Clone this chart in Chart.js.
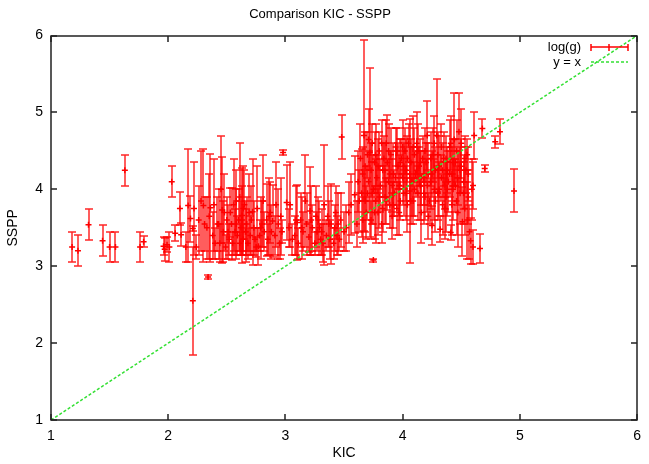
<!DOCTYPE html>
<html>
<head>
<meta charset="utf-8">
<script src="https://cdn.jsdelivr.net/npm/chart.js@4"></script>
<style>
  html, body { margin: 0; padding: 0; background: #fff; }
  #wrap { width: 649px; height: 464px; }
</style>
</head>
<body>
<div id="wrap"><canvas id="chart" width="649" height="464"></canvas></div>
<script>
// KIC log(g) vs SSPP log(g), with SSPP error (+/-)
const kic = [
  1.18,1.23,1.32,1.44,1.50,1.55,1.63,1.76,1.79,1.96,
  1.97,1.99,2.01,2.03,2.06,2.10,2.11,2.15,2.17,2.19,
  2.21,2.21,2.24,2.30,2.31,2.34,2.36,2.38,2.40,2.42,
  2.44,2.46,2.47,2.49,2.50,2.52,2.53,2.54,2.55,2.57,
  2.58,2.59,2.60,2.61,2.62,2.63,2.64,2.65,2.66,2.67,
  2.68,2.70,2.72,2.73,2.74,2.75,2.77,2.78,2.80,2.82,
  2.84,2.85,2.87,2.89,2.91,2.94,2.95,2.97,2.98,3.01,
  3.03,3.06,3.08,3.10,3.11,3.13,3.15,3.18,3.20,3.21,
  3.23,3.25,3.27,3.28,3.30,3.31,3.33,3.35,3.37,3.39,
  3.41,3.43,3.45,3.46,3.48,3.50,3.56,3.59,3.61,3.63,
  3.65,3.66,3.67,3.68,3.69,3.70,3.71,3.72,3.73,3.74,
  3.75,3.75,3.76,3.77,3.78,3.79,3.80,3.81,3.82,3.83,
  3.84,3.85,3.86,3.87,3.88,3.89,3.90,3.91,3.92,3.93,
  3.94,3.95,3.96,3.97,3.98,3.99,4.00,4.01,4.02,4.03,
  4.04,4.05,4.06,4.07,4.08,4.09,4.10,4.11,4.12,4.13,
  4.14,4.15,4.16,4.17,4.18,4.19,4.20,4.21,4.22,4.23,
  4.24,4.25,4.26,4.27,4.28,4.29,4.30,4.31,4.32,4.33,
  4.34,4.35,4.36,4.37,4.38,4.39,4.40,4.41,4.42,4.43,
  4.44,4.45,4.46,4.47,4.48,4.49,4.50,4.51,4.52,4.53,
  4.54,4.55,4.56,4.58,4.60,4.60,4.61,4.66,4.68,4.70,
  4.79,4.83,4.95,
  2.22,2.26,2.28,2.33,2.35,2.39,2.43,2.45,2.48,2.51,
  2.56,2.58,2.61,2.63,2.64,2.66,2.69,2.71,2.76,2.79,
  2.81,2.86,2.88,2.92,2.96,3.04,3.09,3.14,3.17,3.22,
  3.26,3.29,3.32,3.36,3.38,3.42,3.44,3.47,3.52,3.54,
  3.62,3.64,3.66,3.68,3.70,3.71,3.73,3.74,3.76,3.77,
  3.79,3.80,3.82,3.83,3.85,3.86,3.88,3.89,3.91,3.92,
  3.94,3.95,3.97,3.98,4.00,4.01,4.03,4.04,4.06,4.07,
  4.09,4.10,4.12,4.13,4.15,4.16,4.18,4.19,4.21,4.22,
  4.24,4.25,4.27,4.28,4.30,4.31,4.33,4.34,4.36,4.37,
  4.38,4.40,4.41,4.42,4.43,4.45,4.46,4.47,4.49,4.50,
  4.52,4.53,4.55,4.56,4.57,4.59
]
const sspp = [
  3.25,3.20,3.54,3.33,3.25,3.25,4.25,3.25,3.32,3.26,
  3.22,3.28,3.25,4.10,3.43,3.75,3.41,3.25,3.79,3.62,
  3.49,2.55,3.25,3.79,3.55,2.86,3.76,3.40,3.30,3.55,
  3.30,3.73,3.45,3.25,3.60,3.35,3.70,3.55,3.30,3.45,
  3.85,3.40,3.60,3.30,3.50,3.66,3.35,3.80,3.45,3.55,
  3.30,3.40,3.71,3.50,3.35,3.25,3.26,3.40,3.55,3.45,
  3.60,3.35,3.70,3.59,3.40,3.55,3.30,3.45,4.48,3.83,
  3.50,3.35,3.40,3.57,3.30,3.60,3.45,3.55,3.38,3.72,
  3.50,3.30,3.45,3.60,3.35,3.45,3.80,3.40,3.55,3.55,
  3.30,3.70,3.55,3.35,4.68,3.45,3.80,3.93,3.55,3.85,
  3.95,4.20,4.70,4.30,3.70,4.45,4.10,4.48,3.60,4.60,
  3.08,4.00,4.35,3.85,4.15,3.70,4.50,4.05,3.55,4.25,
  4.40,3.90,4.60,4.35,4.10,3.80,4.45,3.65,4.20,3.95,
  4.55,3.75,4.30,4.05,3.85,4.40,4.15,3.95,4.50,4.25,
  3.80,4.60,3.98,4.35,4.10,3.85,4.45,4.20,4.60,3.95,
  4.30,4.05,3.70,4.40,4.15,3.90,4.35,4.70,4.20,3.85,
  4.10,3.53,4.45,4.00,4.25,4.70,3.95,4.30,3.48,4.15,
  3.80,4.40,4.05,3.90,4.25,4.10,4.55,3.44,4.20,4.00,
  4.65,4.35,3.85,4.15,4.75,3.95,4.30,3.58,4.10,3.75,
  4.25,4.45,3.90,3.33,3.25,4.05,4.70,3.23,4.79,4.27,
  4.62,4.75,3.98,
  3.75,3.60,3.85,3.50,3.65,3.80,3.55,4.00,3.70,3.45,
  3.80,3.55,3.90,3.60,3.75,3.45,3.70,3.60,3.75,3.50,
  3.85,3.65,3.45,3.80,3.65,3.80,3.60,3.50,3.85,3.60,
  3.65,3.50,3.30,3.65,3.35,3.50,3.40,3.60,3.50,3.70,
  4.10,4.40,3.60,3.85,3.95,4.65,4.25,3.95,3.70,4.45,
  4.30,3.90,4.60,3.75,4.25,3.85,4.50,4.20,4.05,3.80,
  4.15,4.50,3.70,4.35,4.55,4.30,3.95,4.40,4.20,3.85,
  4.55,4.00,4.25,4.50,4.35,4.15,3.95,4.50,4.05,3.65,
  4.40,4.20,4.60,3.85,4.45,4.00,4.55,4.25,3.75,4.40,
  4.00,4.20,4.60,3.80,4.35,4.05,4.50,3.70,4.25,4.60,
  3.95,4.40,3.60,4.20,3.45,4.00
]
const err = [
  0.20,0.20,0.20,0.20,0.20,0.20,0.20,0.20,0.07,0.12,
  0.15,0.10,0.20,0.20,0.10,0.22,0.15,0.20,0.74,0.30,
  0.03,0.70,0.15,0.74,0.35,0.02,0.70,0.30,0.20,0.35,
  0.25,0.69,0.40,0.15,0.30,0.20,0.32,0.47,0.15,0.30,
  0.40,0.25,0.40,0.15,0.35,0.62,0.20,0.45,0.30,0.35,
  0.20,0.25,0.69,0.35,0.15,0.13,0.24,0.20,0.30,0.25,
  0.47,0.20,0.40,0.47,0.25,0.45,0.20,0.15,0.03,0.49,
  0.25,0.20,0.25,0.49,0.20,0.35,0.25,0.40,0.20,0.57,
  0.30,0.15,0.25,0.30,0.20,0.30,0.78,0.20,0.30,0.52,
  0.20,0.35,0.40,0.15,0.29,0.25,0.40,0.50,0.30,0.40,
  0.57,0.35,1.24,0.45,0.35,0.30,0.40,1.10,0.25,0.25,
  0.02,0.45,0.40,0.55,0.30,0.30,0.25,0.35,0.25,0.35,
  0.30,0.35,0.30,0.62,0.30,0.30,0.35,0.30,0.40,0.30,
  0.25,0.35,0.30,0.40,0.25,0.25,0.35,0.30,0.30,0.40,
  0.35,0.25,0.94,0.30,0.45,0.30,0.35,0.30,0.40,0.35,
  0.25,0.45,0.40,0.30,0.35,0.30,0.25,0.45,0.40,0.30,
  0.35,0.25,0.35,0.40,0.30,0.73,0.35,0.40,0.17,0.30,
  0.40,0.35,0.30,0.45,0.30,0.40,0.35,0.10,0.35,0.40,
  0.60,0.30,0.45,0.35,0.50,0.40,0.35,0.45,0.35,0.35,
  0.30,0.20,0.35,0.30,0.22,0.30,0.30,0.19,0.12,0.05,
  0.08,0.16,0.28,
  0.60,0.45,0.65,0.40,0.55,0.60,0.45,0.70,0.50,0.35,
  0.60,0.45,0.70,0.45,0.55,0.40,0.50,0.45,0.55,0.40,
  0.60,0.50,0.35,0.55,0.50,0.55,0.45,0.40,0.60,0.45,
  0.40,0.35,0.25,0.40,0.25,0.30,0.25,0.35,0.30,0.40,
  0.40,0.45,0.30,0.40,0.35,0.40,0.35,0.40,0.35,0.40,
  0.35,0.40,0.30,0.30,0.35,0.30,0.35,0.30,0.35,0.30,
  0.35,0.30,0.30,0.30,0.35,0.30,0.35,0.30,0.35,0.30,
  0.40,0.35,0.30,0.35,0.30,0.35,0.40,0.30,0.35,0.30,
  0.35,0.30,0.35,0.40,0.30,0.35,0.30,0.35,0.40,0.30,
  0.35,0.30,0.35,0.40,0.30,0.35,0.40,0.45,0.30,0.45,
  0.40,0.30,0.50,0.35,0.35,0.40
]
const diagonal = [1, 6]
const axisTicks = [1, 2, 3, 4, 5, 6]

const FONT = 'Liberation Sans, Arial, Helvetica, sans-serif'
const RED = '#ff0000'
const GREEN = '#33e033'

// error bars drawn under the point crosses
const errorBars = {
    id: 'errorBars',
    beforeDatasetsDraw(chart) {
        const { ctx, chartArea: a, scales: { x, y } } = chart
        ctx.save()
        ctx.beginPath()
        ctx.rect(a.left, a.top, a.right - a.left, a.bottom - a.top)
        ctx.clip()
        ctx.strokeStyle = 'rgba(255,0,0,0.85)'
        ctx.lineWidth = 1.5
        kic.forEach((k, i) => {
            const px = Math.round(x.getPixelForValue(k))
            const lo = Math.round(y.getPixelForValue(sspp[i] - err[i]))
            const hi = Math.round(y.getPixelForValue(sspp[i] + err[i]))
            ctx.beginPath()
            ctx.moveTo(px, lo); ctx.lineTo(px, hi)
            ctx.moveTo(px - 4, lo); ctx.lineTo(px + 4, lo)
            ctx.moveTo(px - 4, hi); ctx.lineTo(px + 4, hi)
            ctx.stroke()
        })
        ctx.restore()
    }
}

// gnuplot-like frame, mirrored inward ticks and key
const frame = {
    id: 'frame',
    afterDraw(chart) {
        const { ctx, chartArea: a, scales: { x, y } } = chart
        ctx.save()
        ctx.strokeStyle = '#222'
        ctx.lineWidth = 1.5
        const L = Math.round(a.left), R = Math.round(a.right)
        const T = Math.round(a.top), B = Math.round(a.bottom)
        ctx.strokeRect(L, T, R - L, B - T)
        ctx.beginPath()
        axisTicks.forEach(v => {
            const px = Math.round(x.getPixelForValue(v))
            ctx.moveTo(px, B); ctx.lineTo(px, B - 6)
            ctx.moveTo(px, T); ctx.lineTo(px, T + 6)
            const py = Math.round(y.getPixelForValue(v))
            ctx.moveTo(L, py); ctx.lineTo(L + 6, py)
            ctx.moveTo(R, py); ctx.lineTo(R - 6, py)
        })
        ctx.stroke()

        // key
        ctx.font = '13px ' + FONT
        ctx.fillStyle = '#000'
        ctx.textAlign = 'right'
        ctx.textBaseline = 'middle'
        ctx.fillText('log(g)', 581, 47)
        ctx.fillText('y = x', 581, 62)

        ctx.strokeStyle = RED
        ctx.lineWidth = 1.5
        ctx.beginPath()
        ctx.moveTo(591, 47); ctx.lineTo(628, 47)
        ctx.moveTo(591, 44); ctx.lineTo(591, 51)
        ctx.moveTo(628, 44); ctx.lineTo(628, 51)
        ctx.moveTo(609, 44); ctx.lineTo(609, 51)
        ctx.stroke()

        ctx.strokeStyle = GREEN
        ctx.setLineDash([3, 2])
        ctx.beginPath()
        ctx.moveTo(591, 62); ctx.lineTo(628, 62)
        ctx.stroke()
        ctx.restore()
    }
}

new Chart(document.getElementById('chart'), {
    type: 'scatter',
    data: {
        datasets: [
            {
                label: 'y = x',
                type: 'line',
                data: diagonal.map(v => ({ x: v, y: v })),
                borderColor: GREEN,
                borderWidth: 1.5,
                borderDash: [3, 2],
                pointRadius: 0,
                fill: false
            },
            {
                label: 'log(g)',
                data: kic.map((k, i) => ({ x: k, y: sspp[i] })),
                pointStyle: 'cross',
                pointRadius: 3,
                borderColor: RED,
                backgroundColor: RED,
                borderWidth: 1.5
            }
        ]
    },
    options: {
        responsive: false,
        animation: false,
        events: [],
        layout: { padding: { right: 9 } },
        plugins: {
            legend: { display: false },
            tooltip: { enabled: false },
            title: {
                display: true,
                text: 'Comparison KIC - SSPP',
                color: '#000',
                font: { family: FONT, size: 13, weight: 'normal' },
                padding: { top: 7, bottom: 13 }
            }
        },
        scales: {
            x: {
                type: 'linear',
                min: 1, max: 6,
                afterFit: s => { s.height = 44 },
                afterBuildTicks: s => { s.ticks = axisTicks.map(v => ({ value: v })) },
                grid: { display: false, drawTicks: false },
                border: { display: false },
                ticks: { color: '#000', padding: 8, font: { family: FONT, size: 14 } },
                title: {
                    display: true, text: 'KIC', color: '#000',
                    font: { family: FONT, size: 14 }, padding: { top: 0, bottom: 2 }
                }
            },
            y: {
                type: 'linear',
                min: 1, max: 6,
                afterFit: s => { s.width = 51 },
                afterBuildTicks: s => { s.ticks = axisTicks.map(v => ({ value: v })) },
                grid: { display: false, drawTicks: false },
                border: { display: false },
                ticks: { color: '#000', padding: 8, font: { family: FONT, size: 14 } },
                title: {
                    display: true, text: 'SSPP', color: '#000',
                    font: { family: FONT, size: 14 }, padding: { top: 5, bottom: 0 }
                }
            }
        }
    },
    plugins: [errorBars, frame]
})
</script>
</body>
</html>
